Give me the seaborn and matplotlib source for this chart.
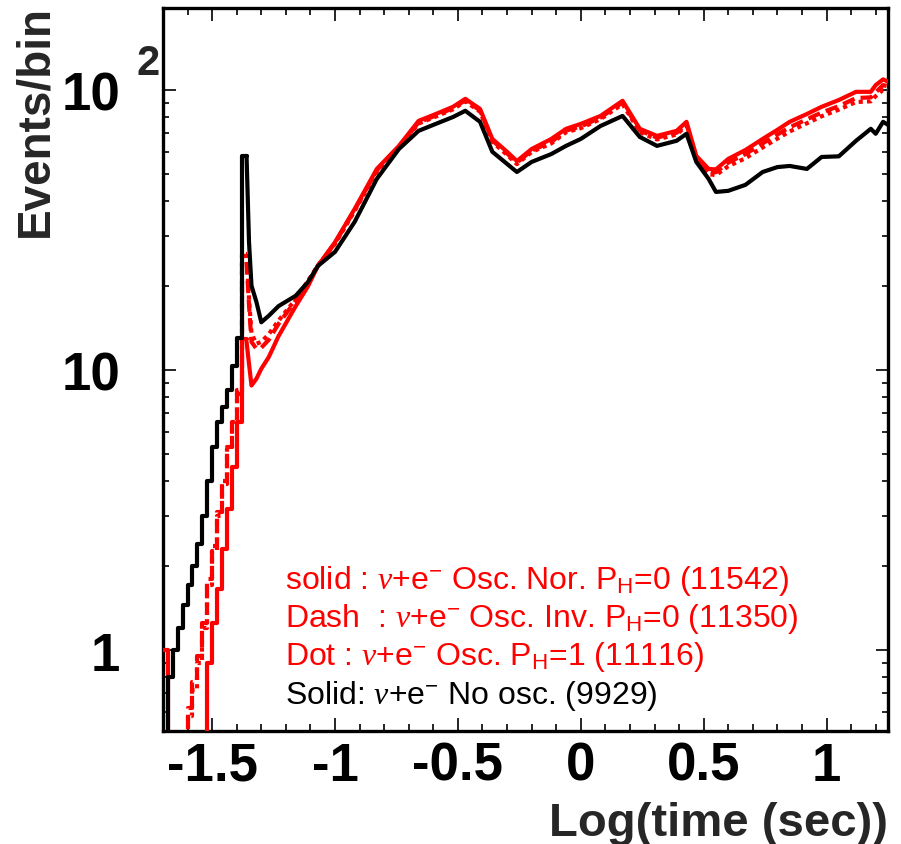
import matplotlib
matplotlib.use("Agg")
import matplotlib.pyplot as plt
import pandas as pd
import seaborn as sns
from matplotlib.ticker import FixedLocator, FixedFormatter, MultipleLocator, LogLocator, NullFormatter

# ---------------------------------------------------------------------------
# Event-rate histograms vs log10(time / s)
# ---------------------------------------------------------------------------
# Rising edge: fine histogram bins (left edges, width 0.02)
bin_width = 0.02
bin_left = [-1.70, -1.68, -1.66, -1.64, -1.62, -1.60, -1.58, -1.56, -1.54,
            -1.52, -1.50, -1.48, -1.46, -1.44, -1.42, -1.40, -1.38]

noosc_early = [0.40, 0.80, 1.00, 1.20, 1.45, 1.70, 2.00, 2.40, 3.00,
               4.00, 5.30, 6.50, 7.40, 8.50, 10.3, 13.0, 58.0]
nor_early = [1.00, 0.30, 0.30, 0.30, 0.30, 0.30, 0.30, 0.30, 0.30,
             0.90, 1.25, 1.65, 2.30, 3.20, 4.50, 6.50, 12.9]
inv_early = [0.30, 0.30, 0.30, 0.30, 0.45, 0.62, 0.77, 0.95, 1.25,
             1.80, 2.35, 3.10, 4.00, 5.30, 6.60, 8.50, 25.5]
ph1_early = [0.30, 0.30, 0.30, 0.30, 0.40, 0.58, 0.72, 0.90, 1.20,
             1.70, 2.25, 3.00, 3.90, 5.20, 6.50, 8.20, 26.0]

# After the neutronization burst
late_t = [-1.36, -1.35, -1.34, -1.32, -1.30, -1.27, -1.23, -1.16, -1.11, -1.07,
          -1.00, -0.92, -0.83, -0.74, -0.66, -0.59, -0.52, -0.47, -0.41, -0.36,
          -0.30, -0.26, -0.20, -0.12, -0.06, 0.00, 0.08, 0.17, 0.24, 0.31,
          0.39, 0.43, 0.47, 0.52, 0.55, 0.60, 0.67, 0.74, 0.80, 0.85,
          0.92, 0.98, 1.05, 1.12, 1.18, 1.20, 1.23, 1.25]

noosc_late = [58.0, 28.6, 20.0, 17.5, 14.8, 15.6, 16.9, 18.4, 20.6, 23.5,
              26.4, 33.8, 48.1, 61.5, 71.4, 75.6, 80.0, 84.2, 76.9, 60.1,
              54.4, 50.9, 55.3, 59.0, 63.1, 66.8, 74.3, 80.7, 67.9, 63.1,
              65.8, 69.7, 55.3, 48.1, 43.2, 43.6, 45.8, 50.9, 53.0, 53.5,
              52.2, 57.6, 57.9, 65.8, 72.6, 69.7, 76.9, 75.0]
nor_late = [12.6, 10.5, 8.8, 9.3, 10.1, 11.1, 13.2, 16.9, 19.9, 23.5,
            28.6, 37.6, 52.2, 63.1, 77.5, 82.0, 87.0, 92.9, 85.5, 66.8,
            60.1, 55.7, 61.5, 66.8, 72.6, 75.6, 80.7, 91.4, 72.6, 68.5,
            71.4, 76.9, 58.1, 52.2, 52.0, 56.7, 61.0, 66.8, 72.0, 76.9,
            82.0, 87.0, 92.0, 98.4, 98.4, 104.0, 109.0, 107.0]
inv_late = [24.3, 17.0, 12.6, 11.9, 12.0, 12.8, 14.6, 17.7, 20.5, 23.5,
            28.4, 37.3, 51.6, 62.5, 76.5, 81.0, 86.0, 91.8, 84.5, 66.0,
            59.3, 55.0, 60.7, 65.2, 71.5, 74.0, 79.6, 90.2, 71.6, 67.5,
            70.3, 75.6, 57.0, 51.0, 50.8, 55.0, 59.0, 64.4, 69.3, 73.5,
            78.5, 83.0, 87.5, 93.5, 94.0, 98.0, 104.0, 103.0]
ph1_late = [26.0, 18.0, 13.5, 12.4, 12.6, 13.4, 15.0, 17.9, 20.8, 23.6,
            28.2, 37.0, 51.0, 62.0, 75.8, 80.3, 85.2, 91.0, 83.6, 65.2,
            58.6, 54.3, 60.0, 64.4, 70.6, 73.0, 78.6, 89.0, 70.6, 66.5,
            69.3, 74.5, 56.0, 50.0, 49.6, 53.4, 57.0, 62.3, 67.0, 71.0,
            76.0, 80.5, 85.0, 90.5, 91.0, 95.0, 100.0, 100.0]

legend_lines = [
    r"solid : $\nu$+e$^{-}$ Osc. Nor. P$_{\mathrm{H}}$=0 (11542)",
    r"Dash  : $\nu$+e$^{-}$ Osc. Inv. P$_{\mathrm{H}}$=0 (11350)",
    r"Dot : $\nu$+e$^{-}$ Osc. P$_{\mathrm{H}}$=1 (11116)",
    r"Solid: $\nu$+e$^{-}$ No osc. (9929)",
]
legend_colors = ["#ff0000", "#ff0000", "#ff0000", "#000000"]

x_ticks = [-1.5, -1.0, -0.5, 0.0, 0.5, 1.0]
x_ticklabels = ["-1.5", "-1", "-0.5", "0", "0.5", "1"]
y_ticks = [1, 10, 100]
y_ticklabels = ["1", "10", "10"]

# ---------------------------------------------------------------------------
sns.set_style("ticks")
plt.rcParams.update({
    "font.family": ["Liberation Sans", "DejaVu Sans"],
    "mathtext.fontset": "custom",
    "mathtext.rm": "Liberation Sans",
    "mathtext.it": "Liberation Serif:italic",
    "mathtext.bf": "Liberation Sans:bold",
    "axes.linewidth": 2.4,
    "axes.edgecolor": "black",
})

W, H = 901, 845
fig = plt.figure(figsize=(W / 100, H / 100), dpi=100)
ax = fig.add_axes([163 / W, 1 - 732 / H, (888 - 163) / W, (732 - 9) / H])


def early_frame(values):
    t = list(bin_left) + [bin_left[-1] + bin_width]
    n = list(values) + [values[-1]]
    return pd.DataFrame({"t": t, "n": n})


def late_frame(values):
    return pd.DataFrame({"t": late_t, "n": values})


series = [
    (ph1_early, ph1_late, "#ff0000", (0, (1.0, 1.0))),
    (inv_early, inv_late, "#ff0000", (0, (3.0, 1.5))),
    (nor_early, nor_late, "#ff0000", "-"),
    (noosc_early, noosc_late, "#000000", "-"),
]
for early, late, col, ls in series:
    sns.lineplot(data=early_frame(early), x="t", y="n", ax=ax, color=col,
                 linewidth=3.0, linestyle=ls, drawstyle="steps-post",
                 estimator=None, sort=False, zorder=3)
    sns.lineplot(data=late_frame(late), x="t", y="n", ax=ax, color=col,
                 linewidth=3.0, linestyle=ls, estimator=None, sort=False,
                 zorder=3)

ax.set_yscale("log")
ax.set_xlim(-1.70, 1.25)
ax.set_ylim(0.514, 196)

ax.xaxis.set_major_locator(FixedLocator(x_ticks))
ax.xaxis.set_major_formatter(FixedFormatter(x_ticklabels))
ax.xaxis.set_minor_locator(MultipleLocator(0.1))
ax.yaxis.set_major_locator(FixedLocator(y_ticks))
ax.yaxis.set_major_formatter(FixedFormatter(y_ticklabels))
ax.yaxis.set_minor_locator(LogLocator(base=10, subs=range(2, 10)))
ax.yaxis.set_minor_formatter(NullFormatter())

ax.tick_params(which="both", direction="in", top=True, right=True,
               width=1.2, colors="black")
ax.tick_params(axis="x", which="major", length=9.5, pad=7, labelsize=38)
ax.tick_params(axis="x", which="minor", length=5)
ax.tick_params(axis="y", which="major", length=9, pad=31, labelsize=38)
ax.tick_params(axis="y", which="minor", length=4.5)
for lab in ax.get_xticklabels() + ax.get_yticklabels():
    lab.set_fontweight("bold")

# exponent of the 10^2 label
ax.text((148 - 163) / 725, (732 - 64) / 723, "2", transform=ax.transAxes,
        ha="center", va="center", fontsize=30, fontweight="bold")

ax.set_xlabel("Log(time (sec))", fontsize=34, fontweight="bold")
ax.xaxis.label.set_ha("right")
ax.xaxis.label.set_va("baseline")
ax.xaxis.set_label_coords(1.0, (732 - 836) / 723)

ax.set_ylabel("Events/bin", fontsize=33, fontweight="bold")
ax.yaxis.label.set_ha("right")
ax.yaxis.label.set_va("center")
ax.yaxis.set_label_coords((35 - 163) / 725, (732 - 5) / 723)

baselines = [589, 627, 665, 704]
for txt, col, yb in zip(legend_lines, legend_colors, baselines):
    ax.text((285 - 163) / 725, (732 - yb) / 723, txt, transform=ax.transAxes,
            ha="left", va="baseline", fontsize=23, color=col)

for sp in ax.spines.values():
    sp.set_linewidth(2.4)
    sp.set_zorder(2.5)

fig.savefig("out.png", dpi=100)
